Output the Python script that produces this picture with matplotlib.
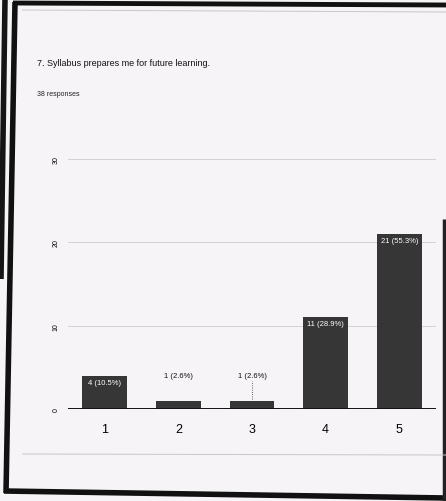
import matplotlib.pyplot as plt
from matplotlib.lines import Line2D

plt.rcParams['font.family'] = ['Liberation Sans', 'DejaVu Sans']

title = '7. Syllabus prepares me for future learning.'
n_resp = '38 responses'
cats = ['1', '2', '3', '4', '5']
counts = [4, 1, 1, 11, 21]
pcts = ['10.5%', '2.6%', '2.6%', '28.9%', '55.3%']
yticks = [0, 10, 20, 30]

W, H = 446, 502
fig = plt.figure(figsize=(W / 100, H / 100), dpi=100)
fig.patch.set_facecolor('#f6f4f7')

def px(x, y):  # pixel coords -> figure fraction
    return x / W, 1 - y / H

def fline(x0, y0, x1, y1, lw, c):
    (a, b), (cc, d) = px(x0, y0), px(x1, y1)
    fig.add_artist(Line2D([a, cc], [b, d], lw=lw, color=c, transform=fig.transFigure,
                          solid_capstyle='butt'))

# scanned page frame
fline(5, 0, 1, 280, 4, '#151515')
fline(15, 3, 6, 494, 4, '#111111')
fline(13, 4, 446, 6, 3.5, '#111111')
fline(4, 492, 446, 499, 4, '#111111')
fline(444, 220, 444, 502, 2.5, '#222222')
fline(22, 11, 446, 13, 0.7, '#c9c6cc')
fline(22, 455, 446, 456, 0.7, '#c9c6cc')

fig.text(*px(37, 63), title, fontsize=6.5, va='center', ha='left', color='#111111')
fig.text(*px(37, 95), n_resp, fontsize=5, va='center', ha='left', color='#222222')

ax = fig.add_axes([68 / W, 1 - 410 / H, 368 / W, 250 / H])
ax.set_facecolor('none')
x = range(len(cats))
ax.bar(x, counts, width=0.61, color='#363636', zorder=3)
ax.set_xlim(-0.5, len(cats) - 0.5)
ax.set_ylim(0, 30)
ax.set_yticks(yticks)
ax.set_yticklabels([str(t) for t in yticks], rotation=90, fontsize=5, va='center')
ax.set_xticks(list(x))
ax.set_xticklabels(cats, fontsize=9)
ax.tick_params(length=0, pad=10)
ax.tick_params(axis='y', pad=6)
for s in ax.spines.values():
    s.set_visible(False)
ax.grid(axis='y', color='#d2d0d4', lw=0.7, zorder=0)
ax.axhline(0, color='#111111', lw=1.4, zorder=4)

for i, (c, p) in enumerate(zip(counts, pcts)):
    lab = f'{c} ({p})'
    if c >= 3:
        ax.text(i, c - 0.35, lab, ha='center', va='top', fontsize=5.5, color='white', zorder=5)
    else:
        ax.text(i, c + 2.6, lab, ha='center', va='bottom', fontsize=5.5, color='#111111')
        if i == 2:
            ax.plot([i, i], [c + 0.2, c + 2.4], ls=':', lw=0.6, color='#333333')

fig.savefig('out.png', dpi=100, facecolor=fig.get_facecolor())
